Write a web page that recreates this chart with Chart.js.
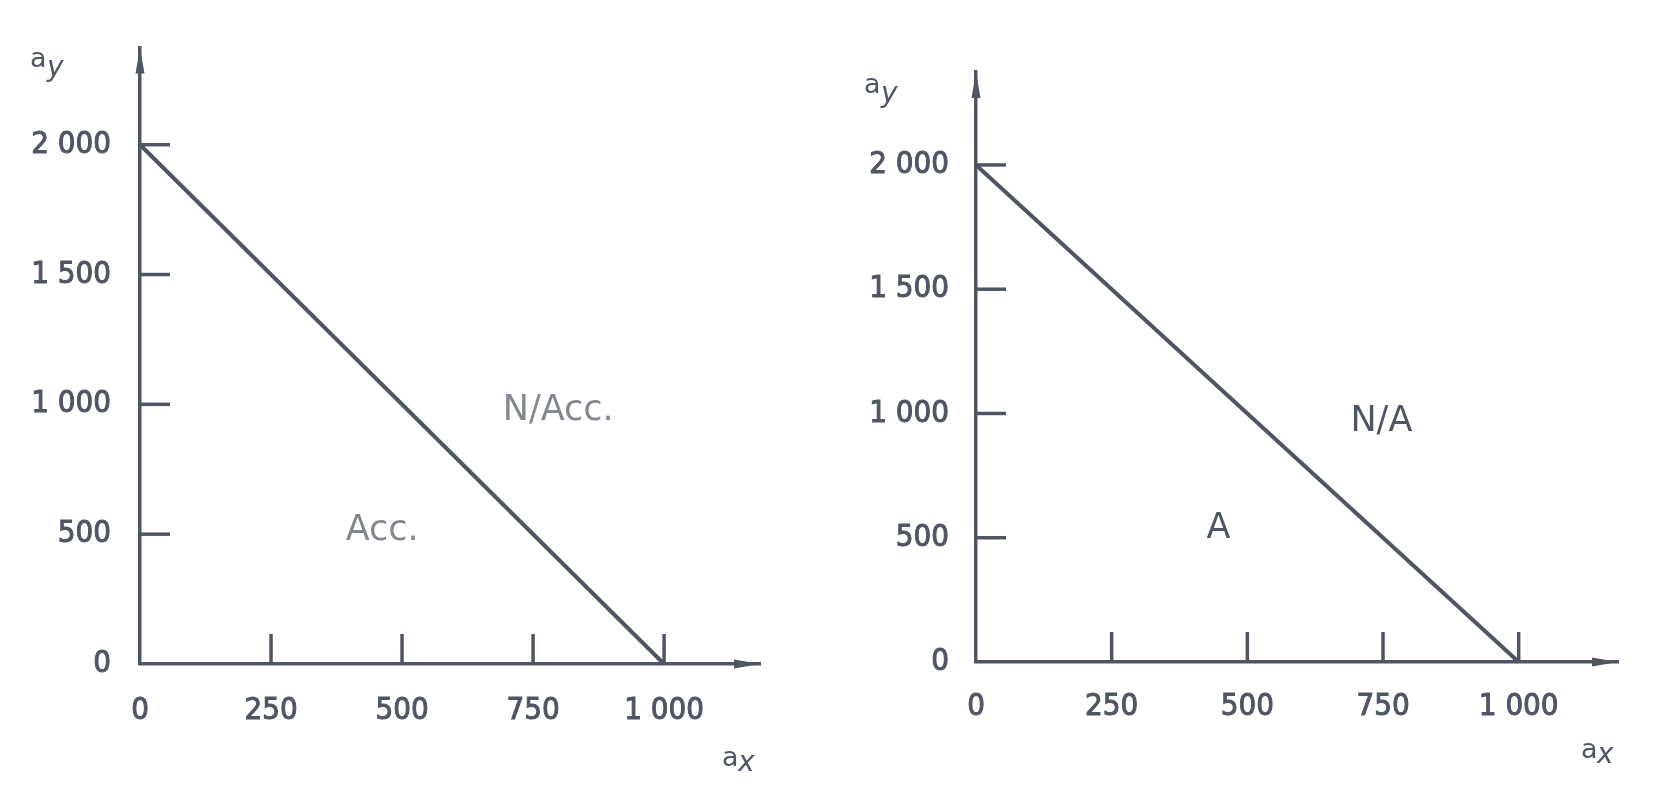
<!DOCTYPE html>
<html>
<head>
<meta charset="utf-8">
<script src="https://cdn.jsdelivr.net/npm/chart.js@4.4.1/dist/chart.umd.min.js"></script>
<style>
    html, body { margin: 0; padding: 0; background: #fff; }
    #wrap { position: relative; width: 1660px; height: 811px; overflow: hidden; }
    .panel { position: absolute; top: 0; width: 830px; height: 811px; }
</style>
</head>
<body>
<div id="wrap">
    <div class="panel" style="left:0"><canvas id="chartAcc"></canvas></div>
    <div class="panel" style="left:830px"><canvas id="chartA"></canvas></div>
</div>
<script>
// limit line a_y vs a_x
const limitX = [0, 1000];
const limitY = [2000, 0];

const xTicks = [0, 250, 500, 750, 1000];
const yTicks = [0, 500, 1000, 1500, 2000];
const xTickLabels = ['0', '250', '500', '750', '1 000'];
const yTickLabels = ['0', '500', '1 000', '1 500', '2 000'];

// region labels: below / above the line
const regionsLeft = ['Acc.', 'N/Acc.'];
const regionsRight = ['A', 'N/A'];

const xMax = 1183;
const yMax = 2374;

const ink = '#505563';
const labelFont = '"DejaVu Sans Condensed", "Liberation Sans Narrow", sans-serif';

function drawArrow(ctx, x, y, dir) {
    const len = 26, half = 4.5;
    ctx.beginPath();
    if (dir === 'up') {
        ctx.moveTo(x, y);
        ctx.lineTo(x - half, y + len);
        ctx.lineTo(x + half, y + len);
    } else {
        ctx.moveTo(x, y);
        ctx.lineTo(x - len, y - half);
        ctx.lineTo(x - len, y + half);
    }
    ctx.closePath();
    ctx.fill();
}

function drawSub(ctx, main, sub, x, y, subDx, subDy) {
    ctx.font = '27px "DejaVu Sans", sans-serif';
    ctx.textAlign = 'left';
    ctx.textBaseline = 'alphabetic';
    ctx.fillText(main, x, y);
    ctx.font = 'italic 28px "DejaVu Sans", sans-serif';
    ctx.fillText(sub, x + subDx, y + subDy);
}

const decorPlugin = {
    id: 'decor',
    afterDatasetsDraw(chart, args, o) {
        const ctx = chart.ctx;
        const xs = chart.scales.x, ys = chart.scales.y;
        const area = chart.chartArea;
        ctx.save();
        ctx.strokeStyle = ink;
        ctx.fillStyle = ink;
        ctx.lineWidth = 3.5;

        // inner tick marks
        yTicks.forEach(v => {
            if (v === 0) return;
            const py = ys.getPixelForValue(v);
            ctx.beginPath();
            ctx.moveTo(area.left, py);
            ctx.lineTo(area.left + o.tickLen, py);
            ctx.stroke();
        });
        xTicks.forEach(v => {
            if (v === 0) return;
            const px = xs.getPixelForValue(v);
            ctx.beginPath();
            ctx.moveTo(px, area.bottom);
            ctx.lineTo(px, area.bottom - o.tickLen);
            ctx.stroke();
        });

        // arrow heads
        drawArrow(ctx, area.left, area.top, 'up');
        drawArrow(ctx, area.right, area.bottom, 'right');

        // region labels
        ctx.font = '35px "DejaVu Sans", sans-serif';
        ctx.textAlign = 'center';
        ctx.textBaseline = 'middle';
        ctx.fillStyle = o.regionColor;
        o.regions.forEach((txt, i) => {
            const p = o.regionAt[i];
            ctx.fillText(txt, xs.getPixelForValue(p[0]), ys.getPixelForValue(p[1]));
        });

        // axis names
        ctx.fillStyle = ink;
        drawSub(ctx, 'a', 'y', o.ayPos[0], o.ayPos[1], 17, 9);
        drawSub(ctx, 'a', 'x', o.axPos[0], o.axPos[1], 16, 5);
        ctx.restore();
    }
};

function makeChart(id, o) {
    const ctx = document.getElementById(id).getContext('2d');
    const tickText = {
        autoSkip: false,
        maxRotation: 0,
        color: ink,
        textStrokeColor: ink,
        textStrokeWidth: 1,
        font: { family: labelFont, size: 31 }
    };
    return new Chart(ctx, {
        type: 'line',
        data: {
            datasets: [{
                data: limitX.map((x, i) => ({ x: x, y: limitY[i] })),
                borderColor: ink,
                borderWidth: 4,
                pointRadius: 0,
                tension: 0,
                clip: false
            }]
        },
        options: {
            responsive: true,
            maintainAspectRatio: false,
            animation: false,
            events: [],
            layout: { padding: { top: o.padTop, right: o.padRight, left: 0, bottom: 0 } },
            plugins: { legend: { display: false }, tooltip: { enabled: false }, decor: o },
            scales: {
                x: {
                    type: 'linear',
                    min: 0,
                    max: xMax,
                    afterBuildTicks: s => { s.ticks = xTicks.map(v => ({ value: v })); },
                    afterFit: s => { s.height = o.xAxisH; },
                    grid: { display: true, drawOnChartArea: false, drawTicks: false },
                    border: { display: true, color: ink, width: 3.5 },
                    ticks: Object.assign({}, tickText, {
                        padding: o.xPad,
                        callback: v => xTickLabels[xTicks.indexOf(v)]
                    })
                },
                y: {
                    type: 'linear',
                    min: 0,
                    max: yMax,
                    afterBuildTicks: s => { s.ticks = yTicks.map(v => ({ value: v })); },
                    afterFit: s => { s.width = o.yAxisW; },
                    grid: { display: true, drawOnChartArea: false, drawTicks: false },
                    border: { display: true, color: ink, width: 3.5 },
                    ticks: Object.assign({}, tickText, {
                        padding: o.yPad,
                        callback: v => yTickLabels[yTicks.indexOf(v)]
                    })
                }
            }
        },
        plugins: [decorPlugin]
    });
}

makeChart('chartAcc', {
    padTop: 47, padRight: 70, yAxisW: 140, xAxisH: 147,
    yPad: 29, xPad: 28, tickLen: 30,
    regions: regionsLeft,
    regionAt: [[462, 511], [798, 973]],
    regionColor: '#83878e',
    ayPos: [30, 67], axPos: [722, 766]
});

makeChart('chartA', {
    padTop: 72, padRight: 42, yAxisW: 146, xAxisH: 149,
    yPad: 27, xPad: 26, tickLen: 30,
    regions: regionsRight,
    regionAt: [[447, 534], [747, 968]],
    regionColor: ink,
    ayPos: [34, 93], axPos: [751, 758]
});
</script>
</body>
</html>
